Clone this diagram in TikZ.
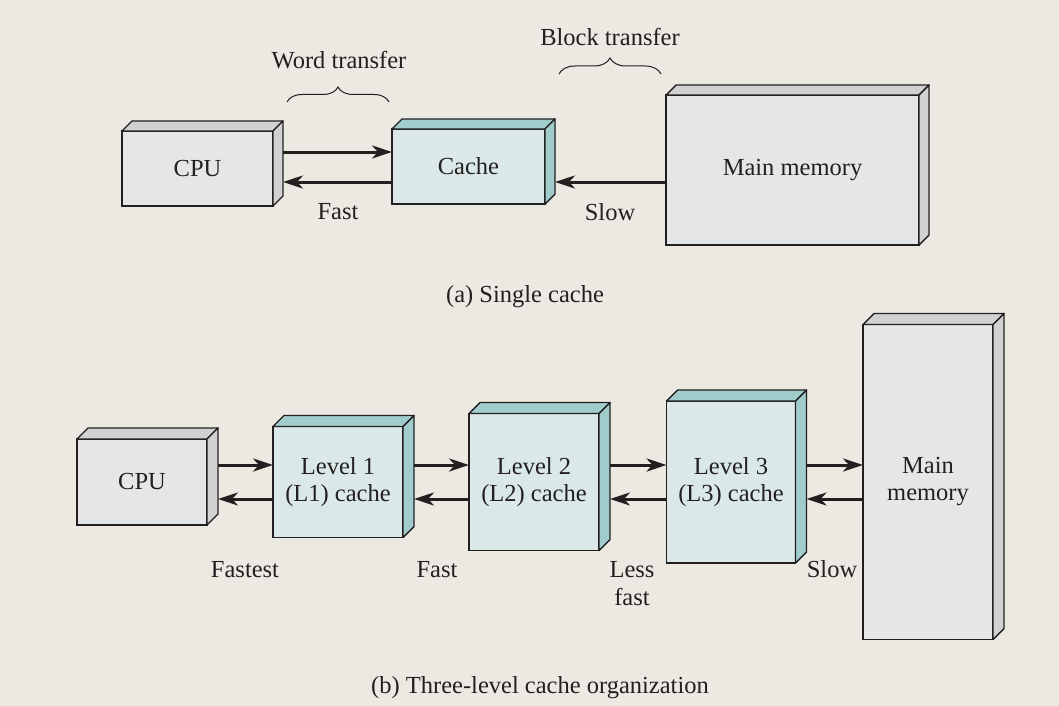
\documentclass[tikz,border=0pt]{standalone}
\usepackage{fontspec}
\setmainfont{Liberation Serif}
\usetikzlibrary{arrows.meta,decorations.pathreplacing}

\definecolor{bg}{RGB}{236,233,226}
\definecolor{grayface}{RGB}{229,230,232}
\definecolor{grayside}{RGB}{208,209,211}
\definecolor{cyanface}{RGB}{219,232,232}
\definecolor{cyanside}{RGB}{160,205,204}
\definecolor{ink}{RGB}{35,31,32}

\tikzset{
  face/.style={draw=ink, line width=1.4pt, rectangle, inner sep=0pt, outer sep=0pt,
    align=center, text=ink, font=\fontsize{24.5}{27}\selectfont},
  graybox/.style={face, fill=grayface},
  cyanbox/.style={face, fill=cyanface},
  conn/.style={draw=ink, line width=3pt, -{Stealth[length=20pt,width=13pt,inset=6pt]}},
  lbl/.style={font=\fontsize{24.5}{28}\selectfont, text=ink, inner sep=0pt, anchor=base, align=center},
  bracemark/.style={draw=ink, line width=1pt, decorate, decoration={brace, amplitude=#1}},
}

% top and right faces of a box seen slightly from above right
\newcommand\boxdepth[3]{%
  \filldraw[fill=#3, draw=ink, line width=1.4pt, line join=round]
    (#1.north west) -- ([shift={(#2,-#2)}]#1.north west)
    -- ([shift={(#2,-#2)}]#1.north east) -- (#1.north east) -- cycle;
  \filldraw[fill=#3, draw=ink, line width=1.4pt, line join=round]
    (#1.north east) -- ([shift={(#2,-#2)}]#1.north east)
    -- ([shift={(#2,-#2)}]#1.south east) -- (#1.south east) -- cycle;
}

\begin{document}
\begin{tikzpicture}[x=1pt,y=-1pt]
  \fill[bg] (0,0) rectangle (1059,706);
  \useasboundingbox (0,0) rectangle (1059,706);

  % (a) single cache
  \node[graybox, minimum width=151, minimum height=75] (cpuA) at (197.5,168.5) {CPU};
  \node[cyanbox, minimum width=153, minimum height=75] (cache) at (468.5,166.5) {Cache};
  \node[graybox, minimum width=253, minimum height=150] (memA) at (792.5,170) {\raisebox{-3pt}{Main memory}};
  \boxdepth{cpuA}{10}{grayside}
  \boxdepth{cache}{10}{cyanside}
  \boxdepth{memA}{10}{grayside}

  \draw[conn] ([shift={(10,-16.5)}]cpuA.east) -- ([shift={(0,-14.5)}]cache.west);
  \draw[conn] ([shift={(0,15.5)}]cache.west) -- ([shift={(10,13.5)}]cpuA.east);
  \draw[conn] ([shift={(0,12)}]memA.west) -- ([shift={(10,15.5)}]cache.east);

  \node[lbl] (fastA) at (338,219) {Fast};
  \node[lbl] (slowA) at (610,220) {Slow};

  \coordinate (wordL) at (287,102);
  \coordinate (wordR) at (389,102);
  \draw[bracemark=15pt] (wordL) -- (wordR);
  \node[lbl] (word) at (339,69) {Word transfer};
  \coordinate (blockL) at (559,74);
  \coordinate (blockR) at (661,74);
  \draw[bracemark=16pt] (blockL) -- (blockR);
  \node[lbl] (block) at (610,46) {Block transfer};

  \node[lbl] (capA) at (525,302) {(a) Single cache};

  % (b) three-level cache organization
  \node[graybox, minimum width=130, minimum height=86] (cpuB) at (142,482) {CPU};
  \node[cyanbox, minimum width=130, minimum height=111] (l1) at (338,482) {Level 1\\(L1) cache};
  \node[cyanbox, minimum width=130, minimum height=137] (l2) at (534,482) {Level 2\\(L2) cache};
  \node[cyanbox, minimum width=129, minimum height=162] (l3) at (731,482) {Level 3\\(L3) cache};
  \node[graybox, minimum width=130, minimum height=315] (memB) at (928,482) {Main\\memory};
  \boxdepth{cpuB}{11}{grayside}
  \boxdepth{l1}{11}{cyanside}
  \boxdepth{l2}{11}{cyanside}
  \boxdepth{l3}{11}{cyanside}
  \boxdepth{memB}{11}{grayside}

  \foreach \a/\b in {cpuB/l1, l1/l2, l2/l3, l3/memB} {
    \draw[conn] ([shift={(11,-17)}]\a.east) -- ([shift={(0,-17)}]\b.west);
    \draw[conn] ([shift={(0,17)}]\b.west) -- ([shift={(11,17)}]\a.east);
  }

  \node[lbl] (fastest) at (245,577) {Fastest};
  \node[lbl] (fastB) at (437,577) {Fast};
  \node[lbl] (less) at (632,605) {Less\\fast};
  \node[lbl] (slowB) at (832,577) {Slow};

  \node[lbl] (capB) at (540,693) {(b) Three-level cache organization};
\end{tikzpicture}
\end{document}
